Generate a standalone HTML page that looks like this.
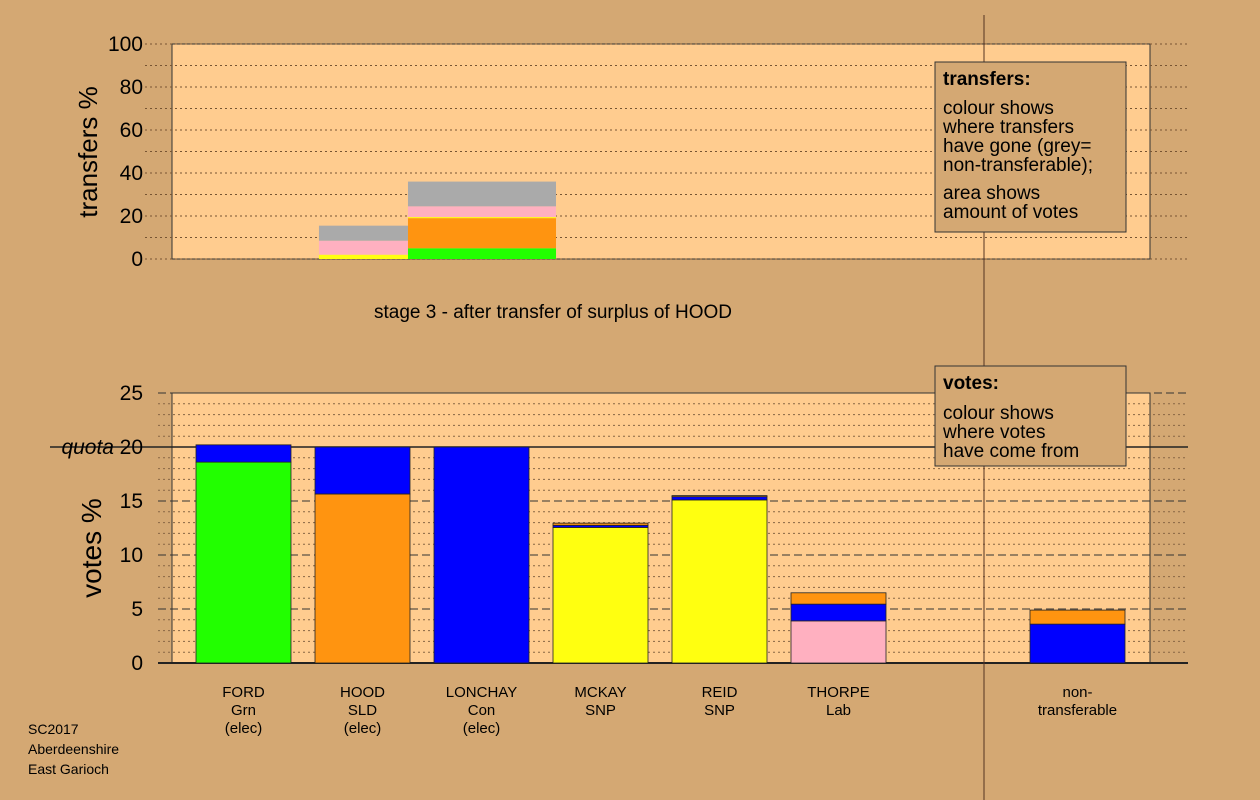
<!DOCTYPE html>
<html><head><meta charset="utf-8"><style>
body{margin:0;background:#d4a873;}
svg{display:block;font-family:"Liberation Sans",sans-serif;}
</style></head><body>
<svg id="c" width="1260" height="800"></svg>
<script>
const candidates=["FORD\nGrn\n(elec)","HOOD\nSLD\n(elec)","LONCHAY\nCon\n(elec)","MCKAY\nSNP","REID\nSNP","THORPE\nLab"];
const segColors=["#22ff00","#ff9410","#0000ff","#ffff10","#ffb0c0"];
const votesFord=[[0,18.6],[2,1.6]];
const votesHood=[[1,15.65],[2,4.35]];
const votesLonchay=[[2,20]];
const votesMckay=[[3,12.55],[2,0.2],[1,0.2]];
const votesReid=[[3,15.1],[2,0.3],[1,0.1]];
const votesThorpe=[[4,3.9],[2,1.55],[1,1.05]];
const votesNonTrans=[[2,3.6],[1,1.3]];
const quota=20;
// transfers: x extent in slot units from plot left, and stacked segments
const transferBars=[
 {from:1.235,to:1.983,segs:[["#ffff10",2],["#ffb0c0",6.5],["#aaaaaa",7]]},
 {from:1.983,to:3.227,segs:[["#22ff00",5],["#ff9410",14],["#ffff10",0.5],["#ffb0c0",5],["#aaaaaa",11.5]]}
];
const svg=document.getElementById('c');const NS='http://www.w3.org/2000/svg';
function el(t,a,p){const e=document.createElementNS(NS,t);for(const k in a)e.setAttribute(k,a[k]);(p||svg).appendChild(e);return e;}
function txt(x,y,s,a){const e=el('text',Object.assign({x:x,y:y},a||{}));e.textContent=s;return e;}
const bx0=172,bx1=1150,by0=663,byPx=10.8;
const yB=v=>by0-v*byPx;
const slotX=i=>243.5+119*i;
const ty0=259,tyPx=2.15;const yT=v=>ty0-v*tyPx;
let r=el('rect',{x:bx0,y:yT(100),width:bx1-bx0,height:ty0-yT(100),fill:'#ffcc8f',stroke:'#333','stroke-width':1});

for(let v=0;v<=100;v+=10){el('line',{x1:145,x2:1188,y1:yT(v),y2:yT(v),stroke:'#775533','stroke-dasharray':'2,3'});}
[0,20,40,60,80,100].forEach(v=>{const t=txt(143,yT(v)+7,v,{'font-size':21,'text-anchor':'end'});});
let t=txt(97,152,'transfers %',{'font-size':26,'text-anchor':'middle',transform:'rotate(-90 97 152)'});
const slotW=119;
transferBars.forEach(b=>{let acc=0;const x0=bx0+b.from*slotW,x1=bx0+b.to*slotW;b.segs.forEach(s=>{const rr=el('rect',{x:x0,y:yT(acc+s[1]),width:x1-x0,height:s[1]*tyPx,fill:s[0]});acc+=s[1];});});
t=txt(553,318,'stage 3 - after transfer of surplus of HOOD',{'font-size':19,'text-anchor':'middle'});
r=el('rect',{x:bx0,y:yB(25),width:bx1-bx0,height:25*byPx,fill:'#ffcc8f',stroke:'#333','stroke-width':1});

for(let v=0;v<=25;v++){if(v%5)el('line',{x1:158,x2:1188,y1:yB(v),y2:yB(v),stroke:'#886644','stroke-dasharray':'2,3'});else el('line',{x1:158,x2:1188,y1:yB(v),y2:yB(v),stroke:'#333','stroke-dasharray':'8,4'});}
el('line',{x1:50,x2:1188,y1:yB(quota),y2:yB(quota),stroke:'#222','stroke-width':1.5});
el('line',{x1:158,x2:1188,y1:by0,y2:by0,stroke:'#222','stroke-width':2});
[0,5,10,15,20,25].forEach(v=>{const t=txt(143,yB(v)+7,v,{'font-size':21,'text-anchor':'end'});});
t=txt(114,yB(quota)+7,'quota',{'font-size':21,'text-anchor':'end','font-style':'italic'});
t=txt(101,548,'votes %',{'font-size':28,'text-anchor':'middle',transform:'rotate(-90 101 548)'});
function bar(cx,segs,name){let acc=0;const g=el('g',{});segs.forEach(s=>{el('rect',{x:cx-47.5,y:yB(acc+s[1]),width:95,height:s[1]*byPx,fill:segColors[s[0]],stroke:'#222','stroke-width':0.8},g);acc+=s[1];});}
[votesFord,votesHood,votesLonchay,votesMckay,votesReid,votesThorpe].forEach((s,i)=>bar(slotX(i),s,'bar-'+candidates[i].split('\n')[0].toLowerCase()));
bar(1077.5,votesNonTrans,'bar-non-transferable');
candidates.forEach((c,i)=>{c.split('\n').forEach((l,j)=>{const t=txt(slotX(i),697+j*18,l,{'font-size':15,'text-anchor':'middle'});});});
['non-','transferable'].forEach((l,j)=>{const t=txt(1077.5,697+j*18,l,{'font-size':15,'text-anchor':'middle'});});
el('line',{x1:984,x2:984,y1:15,y2:800,stroke:'#553322','stroke-width':1});
function box(y,h,title,lines,name){const g=el('g',{});el('rect',{x:935,y:y,width:191,height:h,fill:'#d4a873',stroke:'#333'},g);const a=el('text',{x:943,y:y+23,'font-size':19,'font-weight':'bold'},g);a.textContent=title;lines.forEach(l=>{const e=el('text',{x:943,y:l[1]+y,'font-size':19},g);e.textContent=l[0];});}
box(62,170,'transfers:',[['colour shows',52],['where transfers',71],['have gone (grey=',90],['non-transferable);',109],['area shows',137],['amount of votes',156]],'transfers-legend');
box(366,100,'votes:',[['colour shows',53],['where votes',72],['have come from',91]],'votes-legend');
['SC2017','Aberdeenshire','East Garioch'].forEach((l,j)=>{const t=txt(28,734+j*20,l,{'font-size':14});});
</script>
</body></html>
